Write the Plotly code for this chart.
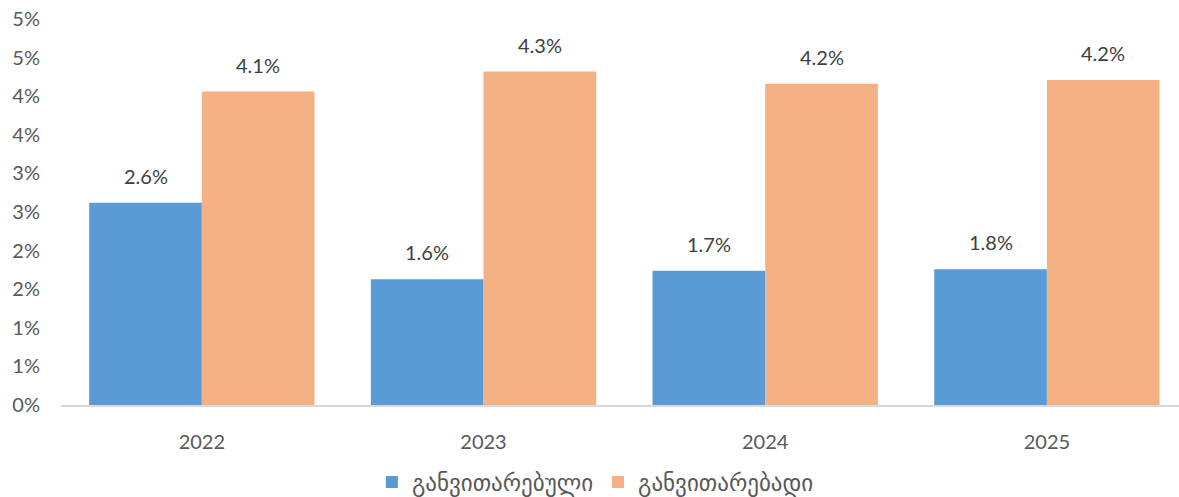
import plotly.graph_objects as go

years = ["2022", "2023", "2024", "2025"]
developed = [0.0262, 0.0163, 0.0174, 0.0176]
developing = [0.0406, 0.0432, 0.0416, 0.0421]
series_names = ["განვითარებული", "განვითარებადი"]
y_ticks = [0, 0.005, 0.01, 0.015, 0.02, 0.025, 0.03, 0.035, 0.04, 0.045, 0.05]
y_tick_labels = ["0%", "1%", "1%", "2%", "2%", "3%", "3%", "4%", "4%", "5%", "5%"]

colors = ["#5B9BD5", "#F4B183"]
font = "Lato, 'DejaVu Sans', sans-serif"

fig = go.Figure()
for name, vals, col in zip(series_names, [developed, developing], colors):
    fig.add_trace(go.Bar(x=years, y=vals, name=name, marker_color=col,
                         marker_line_width=0))

# data labels above bars (x given as category index)
for vals, shift in [(developed, -56.3), (developing, 56.3)]:
    for i, v in enumerate(vals):
        fig.add_annotation(x=i, y=v, xref="x", yref="y",
                           text=f"{v*100:.1f}%", showarrow=False,
                           xshift=shift, yshift=13, yanchor="bottom",
                           font=dict(size=20, color="#404040", family=font))

fig.update_layout(
    width=1179, height=497,
    margin=dict(l=61, r=0, t=19, b=92),
    barmode="group", bargap=0.2, bargroupgap=0,
    plot_bgcolor="white", paper_bgcolor="white",
    font=dict(family=font, color="#595959"),
    legend=dict(orientation="h", xref="container", yref="container",
                x=0.505, xanchor="center", y=0.03, yanchor="middle",
                font=dict(size=23, color="#595959"), itemwidth=30,
                traceorder="normal"),
    showlegend=True,
)
fig.update_xaxes(type="category", range=[-0.5, 3.469], showline=True,
                 linecolor="#D9D9D9", linewidth=1.5, showgrid=False,
                 tickfont=dict(size=20, color="#595959"), ticklabelstandoff=18)
fig.update_yaxes(range=[0, 0.05], tickvals=y_ticks, ticktext=y_tick_labels,
                 showgrid=False, zeroline=False, showline=False,
                 tickfont=dict(size=20, color="#595959"), ticklabelstandoff=20)

fig.write_html("out.html", config={"displayModeBar": False},
               post_script="document.body.style.margin='0';")
